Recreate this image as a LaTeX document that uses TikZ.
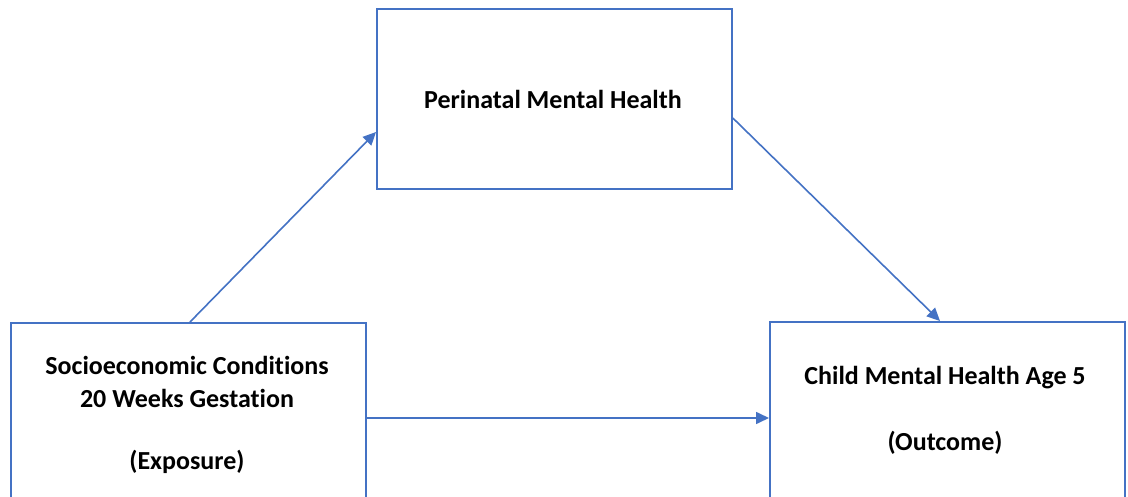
\documentclass[tikz,border=0pt]{standalone}
\usepackage{fontspec}
\setmainfont{Carlito}[Ligatures={NoCommon}]
\usetikzlibrary{arrows.meta}
\definecolor{lineblue}{HTML}{4472C4}
\tikzset{
  box/.style={draw=lineblue, line width=1.8pt, fill=white, inner sep=0pt, anchor=north west},
  lbl/.style={font=\bfseries\fontsize{26}{30}\selectfont, text=black, align=center, inner sep=0pt},
  conn/.style={draw=lineblue, line width=1.6pt, -{Triangle[length=13pt,width=12pt]}}
}
\begin{document}
\begin{tikzpicture}[x=1pt,y=-1pt]
\useasboundingbox (0,0) rectangle (1128,497);
\clip (0,0) rectangle (1128,497);
\fill[white] (0,0) rectangle (1128,497);
\node[box, minimum width=355pt, minimum height=180pt] (P) at (376,8) {};
\node[box, minimum width=355pt, minimum height=220pt] (S) at (10,322) {};
\node[box, minimum width=355pt, minimum height=220pt] (C) at (769,321) {};
\node[lbl] (Pt) at (553,99) {Perinatal Mental Health};
\node[lbl] (St1) at (187,365) {Socioeconomic Conditions};
\node[lbl] (St2) at (187,398) {20 Weeks Gestation};
\node[lbl] (St3) at (187,462) {(Exposure)};
\node[lbl] (Ct1) at (945,378) {Child Mental Health Age 5};
\node[lbl] (Ct2) at (945,443) {(Outcome)};
\coordinate (a1s) at ([xshift=180pt]S.north west);
\coordinate (a1e) at ([yshift=-124pt]P.north west);
\coordinate (a2s) at ([yshift=-110pt]P.north east);
\coordinate (a2e) at ([xshift=171pt]C.north west);
\coordinate (a3s) at ([yshift=-96pt]S.north east);
\coordinate (a3e) at ([yshift=-97pt]C.north west);
\draw[conn] (a1s) -- (a1e);
\draw[conn] (a2s) -- (a2e);
\draw[conn] (a3s) -- (a3e);
\end{tikzpicture}
\end{document}
